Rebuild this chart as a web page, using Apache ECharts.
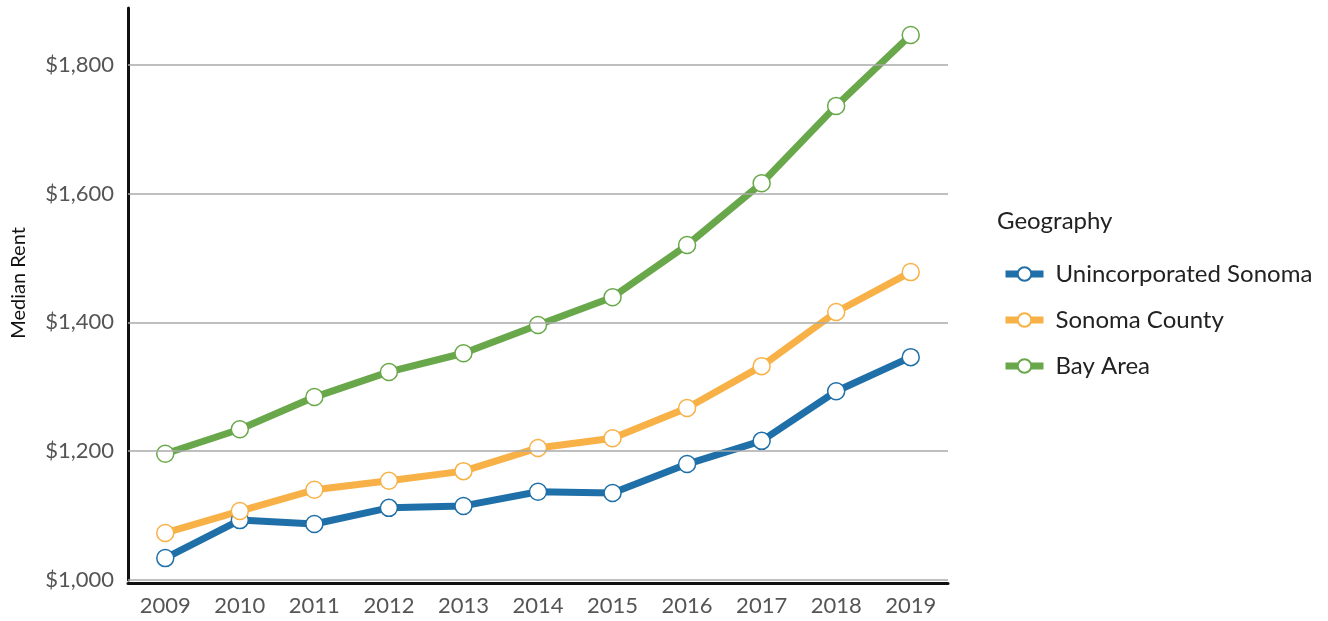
<!DOCTYPE html>
<html><head><meta charset="utf-8">
<script src="https://cdn.jsdelivr.net/npm/echarts@6/dist/echarts.min.js"></script>
<style>html,body{margin:0;padding:0;background:#fff}#c{width:1328px;height:621px}</style>
</head><body><div id="c"></div>
<script>
const years = ['2009','2010','2011','2012','2013','2014','2015','2016','2017','2018','2019'];
const unincorporated = [1034,1093,1087,1112,1115,1137,1135,1180,1216,1293,1346];
const sonomaCounty = [1073,1107,1140,1154,1169,1205,1220,1267,1332,1416,1478];
const bayArea = [1196,1234,1284,1323,1352,1396,1439,1520,1616,1736,1846];
const gridValues = [1000,1200,1400,1600,1800];

const font = 'Lato, "Open Sans", sans-serif';
const chart = echarts.init(document.getElementById('c'));
function lineSeries(name, data, color) {
  return {
    name, type: 'line', data, z: 3,
    lineStyle: { color, width: 7 },
    itemStyle: { color: '#fff', borderColor: color, borderWidth: 1.5 },
    symbol: 'circle', symbolSize: 17, showSymbol: true,
    emphasis: { disabled: true }
  };
}
chart.setOption({
  animation: false,
  title: { text: 'Geography', left: 992, top: 204,
    textStyle: { fontFamily: font, fontSize: 24, fontWeight: 'normal', color: '#222' } },
  legend: {
    orient: 'vertical', left: 997, top: 257, itemGap: 22, itemWidth: 38, itemHeight: 17,
    lineStyle: { width: 7 },
    textStyle: { fontFamily: font, fontSize: 24, color: '#222', padding: [0,0,0,7] },
    data: ['Unincorporated Sonoma','Sonoma County','Bay Area']
  },
  grid: { left: 128, right: 380, top: 8, bottom: 41 },
  xAxis: {
    type: 'category', data: years, boundaryGap: true,
    axisLine: { show: true, lineStyle: { color: '#111', width: 3 } },
    axisTick: { show: false },
    axisLabel: { fontFamily: font, fontSize: 22, color: '#555', margin: 12 },
    offset: 3
  },
  yAxis: {
    type: 'value', min: 1000, max: 1888, interval: 200,
    name: 'Median Rent', nameLocation: 'middle', nameGap: 99, nameRotate: 90,
    nameTextStyle: { fontFamily: font, fontSize: 20, color: '#111', padding: [0,0,0,22] },
    axisLine: { show: true, lineStyle: { color: '#111', width: 3 } },
    axisTick: { show: false },
    splitLine: { show: false },
    axisLabel: { fontFamily: font, fontSize: 22, color: '#555', margin: 14, showMaxLabel: false,
      formatter: v => '$' + v.toLocaleString('en-US') }
  },
  series: [
    { name: 'grid', type: 'line', data: [], z: 0, silent: true,
      markLine: { silent: true, symbol: 'none', label: { show: false },
        lineStyle: { color: '#aaa', width: 1.5, type: 'solid' },
        emphasis: { disabled: true },
        data: gridValues.map(v => ({ yAxis: v })) } },
    lineSeries('Unincorporated Sonoma', unincorporated, '#1f6fa8'),
    lineSeries('Sonoma County', sonomaCounty, '#f8b146'),
    lineSeries('Bay Area', bayArea, '#69a84a')
  ]
});
</script></body></html>
